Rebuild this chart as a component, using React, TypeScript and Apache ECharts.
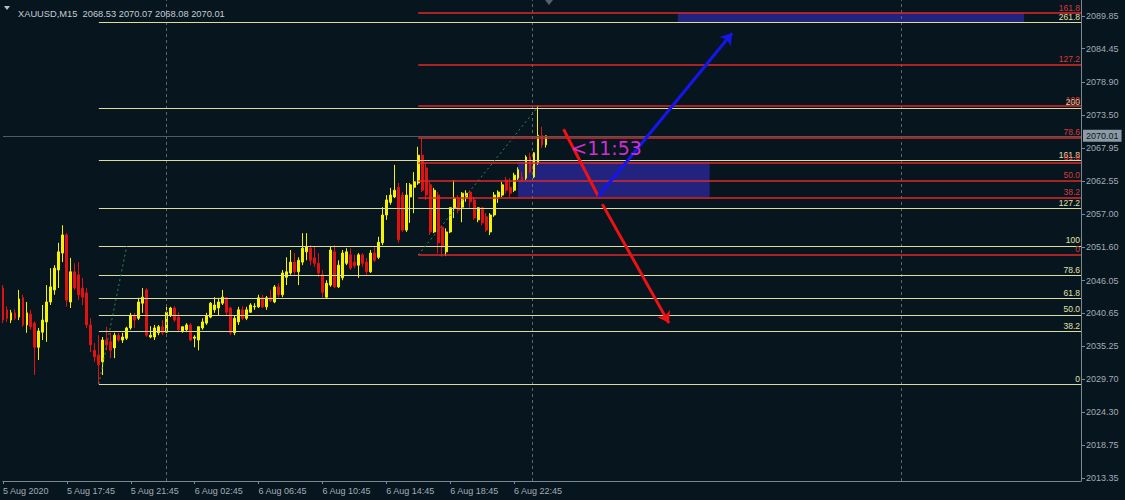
import React, { useEffect, useRef } from "react";
import * as echarts from "echarts";

// ---------- data ----------
const timeLabels = [
  "5 Aug 2020", "5 Aug 17:45", "5 Aug 21:45", "6 Aug 02:45", "6 Aug 06:45",
  "6 Aug 10:45", "6 Aug 14:45", "6 Aug 18:45", "6 Aug 22:45",
];
const barsPerLabel = 16;
const slotCount = 271;

const yTicks = [
  2089.85, 2084.45, 2078.9, 2073.5, 2067.95, 2062.55, 2057.0, 2051.6,
  2046.05, 2040.65, 2035.25, 2029.7, 2024.3, 2018.75, 2013.35,
];

const opens = [
  2044.8, 2041.2, 2039.5, 2040.7, 2040.0, 2043.2, 2038.7, 2040.5, 2039.0, 2035.0, 2037.5, 2039.2, 2042.5, 2044.5, 2047.8, 2050.6, 2053.6, 2042.5, 2047.5, 2047.0, 2044.8, 2044.0, 2038.7, 2034.5, 2033.7, 2032.6, 2036.2, 2035.9, 2034.9, 2037.0, 2036.2, 2036.5, 2038.2, 2040.3, 2039.8,
  2042.3, 2044.5, 2036.7, 2036.7, 2037.4, 2038.4, 2037.5, 2040.3, 2041.5, 2040.0, 2037.7, 2037.9, 2038.7, 2036.5, 2036.2, 2038.2, 2039.0, 2040.0, 2041.2, 2041.5, 2042.3, 2043.2, 2041.5, 2037.4, 2039.2, 2041.2, 2039.8, 2040.8, 2041.7, 2041.7, 2043.2, 2041.7, 2043.2, 2042.5, 2045.0, 2043.7,
  2046.6, 2047.3, 2049.1, 2047.5, 2049.1, 2050.8, 2051.4, 2049.8, 2048.9, 2047.0, 2043.3, 2045.3, 2050.8, 2045.0, 2046.5, 2048.9, 2050.3, 2049.1, 2048.6, 2050.3, 2049.1, 2047.5, 2050.6, 2049.9, 2052.3, 2056.9, 2059.0, 2059.9, 2061.5, 2060.2, 2054.4, 2059.9, 2061.5, 2062.2,
  2066.8, 2064.7, 2061.9, 2054.1, 2060.2, 2054.9, 2050.8, 2054.1, 2058.1, 2059.7, 2058.2, 2059.7, 2060.7, 2059.4, 2056.1, 2058.1, 2056.6, 2054.1, 2056.9, 2059.9, 2060.2, 2062.7, 2061.5, 2061.0, 2063.0, 2063.2, 2063.0, 2066.5, 2063.2, 2065.5, 2070.1, 2068.53,
];
const closes = [
  2039.5, 2039.8, 2040.7, 2039.8, 2043.0, 2038.7, 2040.7, 2038.4, 2035.0, 2037.7, 2039.5, 2042.5, 2045.0, 2048.1, 2050.8, 2053.6, 2042.8, 2047.5, 2044.8, 2043.7, 2043.3, 2038.7, 2035.4, 2033.4, 2032.1, 2036.2, 2035.4, 2034.5, 2037.0, 2036.2, 2036.7, 2038.2, 2040.3, 2039.5, 2042.5,
  2043.3, 2037.0, 2037.0, 2038.2, 2038.4, 2037.4, 2040.8, 2041.5, 2039.5, 2037.9, 2038.4, 2038.7, 2036.2, 2036.7, 2038.4, 2039.2, 2040.2, 2042.3, 2042.0, 2042.5, 2043.3, 2040.8, 2037.4, 2039.8, 2041.2, 2039.8, 2041.2, 2042.0, 2041.8, 2043.2, 2041.7, 2043.2, 2042.7, 2045.0, 2043.7, 2047.3,
  2047.5, 2049.1, 2047.5, 2049.4, 2051.4, 2051.6, 2049.4, 2048.9, 2047.3, 2044.1, 2045.6, 2051.1, 2045.0, 2048.6, 2050.6, 2050.8, 2048.1, 2048.5, 2050.3, 2048.9, 2047.5, 2050.6, 2049.4, 2052.4, 2056.9, 2059.4, 2060.2, 2061.0, 2052.8, 2054.4, 2060.2, 2061.9, 2062.4, 2066.8,
  2061.0, 2060.2, 2054.1, 2061.0, 2052.3, 2051.6, 2054.1, 2058.1, 2059.7, 2057.7, 2060.5, 2060.5, 2059.1, 2056.4, 2058.1, 2055.6, 2054.4, 2056.9, 2060.2, 2060.7, 2061.9, 2061.0, 2060.5, 2063.5, 2064.4, 2062.7, 2066.5, 2064.0, 2067.2, 2070.1, 2068.5, 2070.01,
];
const lows = [
  2039.0, 2039.2, 2039.0, 2039.5, 2039.5, 2038.4, 2037.4, 2037.9, 2030.4, 2032.9, 2036.2, 2035.9, 2042.0, 2043.7, 2044.8, 2049.1, 2041.7, 2041.5, 2044.5, 2042.8, 2042.0, 2038.2, 2034.2, 2032.6, 2028.92, 2030.4, 2034.5, 2033.2, 2033.2, 2035.9, 2035.7, 2036.2, 2037.9, 2038.2, 2039.5,
  2040.7, 2036.7, 2036.5, 2036.2, 2037.0, 2037.0, 2037.4, 2040.0, 2039.2, 2037.5, 2037.4, 2037.5, 2036.0, 2035.0, 2034.5, 2037.9, 2038.7, 2039.8, 2040.7, 2040.3, 2042.0, 2040.3, 2037.0, 2037.0, 2038.7, 2039.5, 2039.5, 2040.7, 2041.2, 2041.5, 2041.5, 2041.2, 2042.5, 2042.3, 2043.3, 2043.3,
  2045.3, 2047.0, 2047.0, 2045.3, 2048.6, 2049.4, 2048.6, 2048.3, 2046.6, 2043.2, 2043.2, 2045.0, 2044.8, 2044.8, 2046.1, 2048.6, 2047.8, 2048.1, 2046.5, 2048.3, 2047.0, 2047.3, 2049.1, 2049.6, 2051.9, 2056.1, 2058.6, 2059.7, 2052.3, 2054.1, 2054.1, 2055.6, 2057.2, 2061.9,
  2060.7, 2059.4, 2053.6, 2053.9, 2050.6, 2050.0, 2050.1, 2053.9, 2056.4, 2057.2, 2055.7, 2059.1, 2058.1, 2056.1, 2055.7, 2055.2, 2054.1, 2053.6, 2056.6, 2058.9, 2059.9, 2060.5, 2059.9, 2060.7, 2062.7, 2062.4, 2062.7, 2063.8, 2063.0, 2065.2, 2068.0, 2068.08,
];
const highs = [
  2045.3, 2041.8, 2041.2, 2041.3, 2044.5, 2043.7, 2042.5, 2041.2, 2039.3, 2038.2, 2042.0, 2045.3, 2048.1, 2048.6, 2052.3, 2055.2, 2053.9, 2049.8, 2048.9, 2049.1, 2046.5, 2044.8, 2039.8, 2035.7, 2037.0, 2036.7, 2038.4, 2037.4, 2037.4, 2037.4, 2037.4, 2038.4, 2040.7, 2040.7, 2043.2,
  2044.8, 2044.8, 2038.5, 2038.7, 2038.7, 2039.5, 2041.7, 2041.7, 2041.8, 2040.8, 2038.5, 2039.0, 2039.0, 2037.0, 2038.5, 2039.8, 2040.7, 2042.5, 2043.3, 2043.2, 2044.5, 2043.3, 2041.7, 2040.3, 2041.7, 2041.8, 2041.7, 2042.3, 2042.3, 2043.7, 2043.7, 2043.5, 2044.5, 2045.3, 2045.6, 2047.8,
  2049.9, 2051.1, 2050.6, 2049.9, 2053.9, 2053.9, 2051.9, 2051.6, 2050.6, 2047.8, 2046.1, 2051.6, 2051.9, 2049.4, 2051.1, 2051.4, 2051.4, 2050.3, 2050.6, 2050.6, 2049.8, 2051.1, 2051.6, 2053.3, 2058.2, 2060.2, 2061.4, 2065.2, 2062.2, 2060.7, 2062.2, 2062.2, 2064.0, 2068.2,
  2069.6, 2065.5, 2062.4, 2061.4, 2060.7, 2055.2, 2054.7, 2058.2, 2062.7, 2060.2, 2060.7, 2061.0, 2061.0, 2059.9, 2058.2, 2058.2, 2057.2, 2057.2, 2060.7, 2061.0, 2062.4, 2063.2, 2063.0, 2063.9, 2064.8, 2064.0, 2066.8, 2067.2, 2067.3, 2075.0, 2071.5, 2070.07,
];

const headerText = "XAUUSD,M15  2068.53 2070.07 2068.08 2070.01";
const bidPrice = 2070.01;

// Fibonacci set 1 (pale yellow)
const fibALow = 2028.92;
const fibAHigh = 2051.77;
const fibAStart = 24;
const fibATrendEnd = 31;
const fibALevels = [0, 38.2, 50, 61.8, 78.6, 100, 127.2, 161.8, 200, 261.8];
const fibALabels = ["0", "38.2", "50.0", "61.8", "78.6", "100", "127.2", "161.8", "200", "261.8"];

// Fibonacci set 2 (red)
const fibBLow = 2050.28;
const fibBHigh = 2075.03;
const fibBStart = 104;
const fibBTrendEnd = 134.25;
const fibBLevels = [0, 38.2, 50, 61.8, 78.6, 100, 127.2, 161.8];
const fibBLabels = ["0", "38.2", "50.0", "61.8", "78.6", "100", "127.2", "161.8"];

// zones [x1, price1, x2, price2]
const zones = [
  [169, 2090.33, 255.75, 2088.74],
  [129, 2065.7, 177, 2059.9],
];
// arrows [x1, p1, x2, p2, colour, head]
const arrows = [
  [140.4, 2071.1, 149.1, 2060.0, "#ee1212", false],
  [149.1, 2060.0, 182.6, 2087.0, "#1515ee", true],
  [150.1, 2058.7, 166.8, 2039.0, "#ee1212", true],
];
const daySeparators = [41, 132.6, 225];
const timerText = "<11:53";
const timerPos = [142.2, 2068.0];

// ---------- look ----------
const X_MAX = slotCount - 1;
const Y_MIN = 2012.86;
const Y_MAX = 2092.5;
const BG = "#07151f";
const AXIS = "#7b8893";
const LABEL = "#a3acb4";
const YELLOW_FIB = "#dcdc9e";
const RED_FIB = "#e02828";
const BULL = "#f4f400";
const BEAR = "#e01212";

function fibPrice(low: number, high: number, lv: number) {
  return low + ((high - low) * lv) / 100;
}

function tickShown(idx: number) {
  return idx % barsPerLabel === 0 && idx / barsPerLabel < timeLabels.length;
}

export default function App() {
  const ref = useRef<HTMLDivElement>(null);

  useEffect(() => {
    if (!ref.current) return;
    const chart = echarts.init(ref.current, null, { renderer: "svg" });
    const cats = Array.from({ length: slotCount }, (_, i) => String(i));
    const candles = opens.map((o, i) => [o, closes[i], lows[i], highs[i]]);

    const fibLines = (
      low: number, high: number, start: number, levels: number[], labels: string[],
    ) =>
      levels.map((lv, i) => {
        const p = fibPrice(low, high, lv);
        return [
          { name: labels[i], coord: [start, p] },
          { name: labels[i], coord: [X_MAX, p] },
        ];
      });

    const overlay = (extra: any) => ({
      type: "line",
      xAxisIndex: 1,
      yAxisIndex: 0,
      data: [],
      silent: true,
      ...extra,
    });

    const option: any = {
      animation: false,
      backgroundColor: BG,
      title: {
        text: headerText,
        left: 13,
        top: 4,
        textStyle: {
          color: "#c5ccd2",
          fontSize: 9.3,
          fontWeight: "normal",
          fontFamily: "Liberation Sans",
        },
      },
      graphic: [
        { type: "polygon", shape: { points: [[4, 6], [10, 6], [7, 10]] }, style: { fill: "#b8c0c8" } },
        { type: "polygon", shape: { points: [[545, 0], [553, 0], [549, 5]] }, style: { fill: "#56626b" } },
      ],
      grid: { left: 0, right: 44, top: 0, bottom: 19 },
      xAxis: [
        {
          type: "category",
          data: cats,
          boundaryGap: false,
          axisLine: { show: true, onZero: false, lineStyle: { color: AXIS, width: 1 } },
          axisTick: {
            show: true,
            length: 3,
            interval: (idx: number) => tickShown(idx),
            lineStyle: { color: AXIS },
          },
          axisLabel: {
            interval: (idx: number) => tickShown(idx),
            formatter: (v: string) => {
              const i = Number(v);
              return tickShown(i) ? timeLabels[i / barsPerLabel] : "";
            },
            align: "left",
            color: LABEL,
            fontSize: 9,
            fontFamily: "Liberation Sans",
            margin: 5,
          },
          splitLine: { show: false },
        },
        {
          type: "value",
          min: 0,
          max: X_MAX,
          show: false,
          axisLine: { show: false, onZero: false },
          splitLine: { show: false },
        },
      ],
      yAxis: {
        type: "value",
        position: "right",
        min: Y_MIN,
        max: Y_MAX,
        axisLine: { show: true, onZero: false, lineStyle: { color: AXIS } },
        axisTick: { show: true, length: 4, customValues: yTicks, lineStyle: { color: AXIS } },
        axisLabel: {
          customValues: yTicks,
          formatter: (v: number) => v.toFixed(2),
          color: LABEL,
          fontSize: 9,
          fontFamily: "Liberation Sans",
          margin: 5,
        },
        splitLine: { show: false },
      },
      series: [
        overlay({
          name: "zones",
          z: 1,
          markArea: {
            silent: true,
            itemStyle: { color: "#22227f" },
            data: zones.map((z) => [{ coord: [z[0], z[1]] }, { coord: [z[2], z[3]] }]),
          },
        }),
        overlay({
          name: "separators",
          markLine: {
            silent: true,
            symbol: "none",
            label: { show: false },
            lineStyle: { color: "#5c6770", type: [3, 3], width: 1 },
            data: daySeparators.map((x) => ({ xAxis: x })),
          },
        }),
        overlay({
          name: "fibA",
          markLine: {
            silent: true,
            symbol: "none",
            lineStyle: { color: YELLOW_FIB, type: "solid", width: 1.2 },
            label: {
              show: true,
              position: "insideEndTop",
              formatter: "{b}",
              color: "#e2e2a6",
              fontSize: 8.5,
              fontFamily: "Liberation Sans",
              distance: 1,
            },
            data: fibLines(fibALow, fibAHigh, fibAStart, fibALevels, fibALabels),
          },
        }),
        overlay({
          name: "fibB",
          markLine: {
            silent: true,
            symbol: "none",
            lineStyle: { color: RED_FIB, type: "solid", width: 1.5, opacity: 1 },
            label: {
              show: true,
              position: "insideEndTop",
              formatter: "{b}",
              color: "#d83a3a",
              fontSize: 8.5,
              fontFamily: "Liberation Sans",
              distance: 1,
            },
            data: fibLines(fibBLow, fibBHigh, fibBStart, fibBLevels, fibBLabels),
          },
        }),
        overlay({
          name: "fibTrends",
          markLine: {
            silent: true,
            symbol: "none",
            label: { show: false },
            lineStyle: { color: "#3a8a4a", type: [2, 3], width: 1 },
            data: [
              [{ coord: [fibAStart, fibALow] }, { coord: [fibATrendEnd, fibAHigh] }],
              [{ coord: [fibBStart, fibBLow] }, { coord: [fibBTrendEnd, fibBHigh] }],
            ],
          },
        }),
        overlay({
          name: "bid",
          markLine: {
            silent: true,
            symbol: "none",
            lineStyle: { color: "#4d5e5a", type: "solid", width: 1 },
            label: {
              show: true,
              position: "end",
              formatter: bidPrice.toFixed(2),
              color: "#0a1822",
              backgroundColor: "#8d9aa5",
              padding: [2, 3, 1, 3],
              fontSize: 9,
              fontFamily: "Liberation Sans",
              distance: 2,
            },
            data: [{ yAxis: bidPrice }],
          },
        }),
        {
          type: "candlestick",
          name: "XAUUSD",
          xAxisIndex: 0,
          yAxisIndex: 0,
          z: 3,
          barWidth: 2.4,
          data: candles,
          itemStyle: {
            color: BULL,
            color0: BEAR,
            borderColor: BULL,
            borderColor0: BEAR,
            borderWidth: 1,
          },
        },
        overlay({
          name: "arrows",
          z: 5,
          markLine: {
            silent: true,
            symbolSize: 11,
            label: { show: false },
            data: arrows.map((a) => [
              { coord: [a[0], a[1]], symbol: "none", lineStyle: { color: a[4], width: 3, type: "solid" } },
              { coord: [a[2], a[3]], symbol: a[5] ? "arrow" : "none" },
            ]),
          },
        }),
        overlay({
          name: "timer",
          z: 6,
          markPoint: {
            silent: true,
            symbol: "rect",
            symbolSize: 1,
            itemStyle: { color: "rgba(0,0,0,0)" },
            label: {
              show: true,
              position: "right",
              distance: 0,
              formatter: timerText,
              color: "#d02ed0",
              fontSize: 19,
              fontFamily: "DejaVu Sans",
            },
            data: [{ coord: timerPos }],
          },
        }),
      ],
    };

    chart.setOption(option);
    return () => chart.dispose();
  }, []);

  return (
    <div
      ref={ref}
      style={{ position: "fixed", left: 0, top: 0, width: 1125, height: 500, background: BG }}
    />
  );
}
